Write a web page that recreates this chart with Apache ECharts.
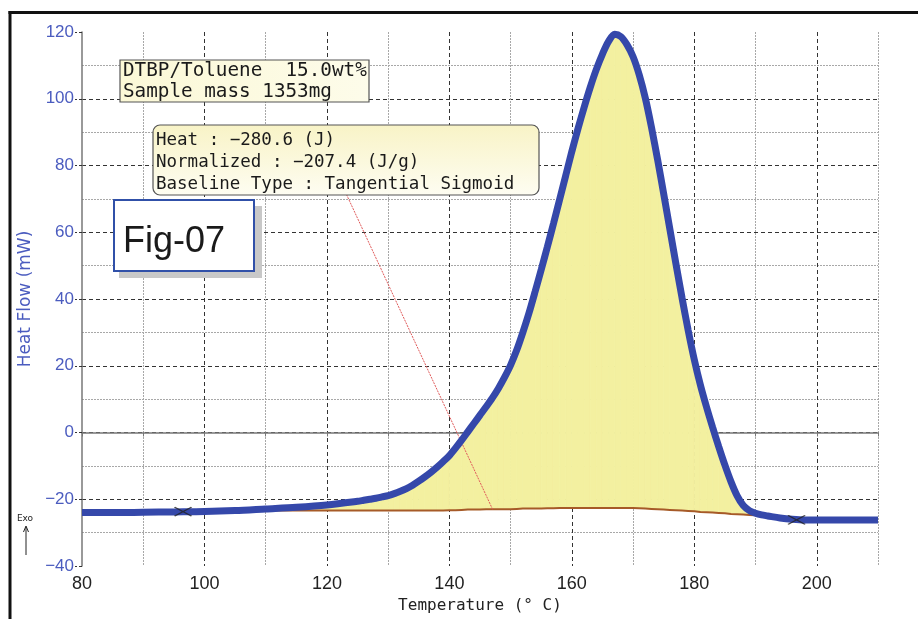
<!DOCTYPE html>
<html>
<head>
<meta charset="utf-8">
<script src="https://cdn.jsdelivr.net/npm/echarts@6/dist/echarts.min.js"></script>
<style>
  html, body { margin: 0; padding: 0; background: #fff; }
  #chart { width: 918px; height: 619px; }
</style>
</head>
<body>
<div id="chart"></div>
<script>
// DSC curve (temperature in °C, heat flow in mW)
const temps = [80, 85, 90, 95, 100, 105, 110, 115, 120,
  125, 126, 127, 128, 129, 130, 131, 132, 133, 134,
  135, 136, 137, 138, 139, 140, 141, 142, 143, 144,
  145, 146, 147, 148, 149, 150, 151, 152, 153, 154,
  155, 156, 157, 158, 159, 160, 161, 162, 163, 164,
  165, 166, 167, 168, 169, 170, 171, 172, 173, 174,
  175, 176, 177, 178, 179, 180, 181, 182, 183, 184,
  185, 186, 187, 188, 189, 190, 191, 192,
  194, 196, 198, 200, 205, 210];
const heatFlow = [-24.0, -24.0, -23.9, -23.8, -23.7, -23.4, -22.9, -22.4, -21.7,
  -20.6, -20.3, -20.0, -19.7, -19.3, -18.9, -18.3, -17.6, -16.8, -15.8,
  -14.6, -13.3, -11.9, -10.4, -8.7, -6.9, -4.7, -2.3, 0.2, 2.7,
  5.2, 7.7, 10.3, 13.2, 16.5, 20.2, 24.7, 30.0, 35.8, 42.2,
  48.8, 55.6, 62.6, 69.8, 77.0, 84.2, 91.0, 97.4, 103.4, 108.8,
  113.4, 117.2, 119.3, 118.6, 116.2, 112.6, 107.2, 100.2, 91.5, 81.8,
  71.5, 61.0, 50.5, 40.3, 30.6, 21.8, 14.2, 7.6, 1.5, -4.3,
  -9.8, -14.8, -19.0, -21.9, -23.4, -24.2, -24.7, -25.0,
  -25.6, -26.0, -26.2, -26.2, -26.2, -26.2];

// tangential sigmoid baseline (same temperatures as the curve between 110 and 192)
const baseTemps = [110, 115, 120,
  125, 126, 127, 128, 129, 130, 131, 132, 133, 134,
  135, 136, 137, 138, 139, 140, 141, 142, 143, 144,
  145, 146, 147, 148, 149, 150, 151, 152, 153, 154,
  155, 156, 157, 158, 159, 160, 161, 162, 163, 164,
  165, 166, 167, 168, 169, 170, 171, 172, 173, 174,
  175, 176, 177, 178, 179, 180, 181, 182, 183, 184,
  185, 186, 187, 188, 189, 190, 191, 192];
const baseFlow = [-23.4, -23.4, -23.4,
  -23.4, -23.4, -23.4, -23.4, -23.4, -23.4, -23.4, -23.4, -23.4, -23.4,
  -23.4, -23.4, -23.4, -23.4, -23.4, -23.3, -23.3, -23.2, -23.1, -23.1,
  -23.1, -23.0, -23.0, -23.0, -23.0, -23.0, -22.9, -22.8, -22.8, -22.8,
  -22.8, -22.7, -22.7, -22.6, -22.6, -22.6, -22.6, -22.6, -22.6, -22.6,
  -22.6, -22.6, -22.6, -22.6, -22.6, -22.6, -22.7, -22.8, -22.9, -23.0,
  -23.1, -23.2, -23.3, -23.4, -23.5, -23.6, -23.8, -23.9, -24.0, -24.1,
  -24.2, -24.4, -24.5, -24.6, -24.7, -24.8, -24.9, -25.0];

// red tangent line and the two "x" limit marks
const tangentTemps = [123.2, 147.1];
const tangentFlow = [71.3, -23.2];
const markTemps = [96.5, 196.7];
const markFlow = [-23.7, -26.2];

const xMin = 80, xMax = 210, yMin = -40, yMax = 120;

const pairs = (xs, ys) => xs.map((x, i) => [x, ys[i]]);
const curveAt = t => heatFlow[temps.indexOf(t)];
const minus = v => String(v).replace('-', '\u2212');

const blue = '#3548aa';
const labelBlue = '#4b5cbf';
const fillYellow = '#f3f0a0';
const mono = '"DejaVu Sans Mono", monospace';

// one quad per baseline step, between the baseline and the curve
function renderArea(params, api) {
  const i = params.dataIndex;
  if (i >= baseTemps.length - 1) return null;
  const pts = [
    api.coord([baseTemps[i], curveAt(baseTemps[i])]),
    api.coord([baseTemps[i + 1], curveAt(baseTemps[i + 1])]),
    api.coord([baseTemps[i + 1], baseFlow[i + 1]]),
    api.coord([baseTemps[i], baseFlow[i]])
  ];
  return {
    type: 'polygon',
    shape: { points: pts },
    style: { fill: fillYellow, stroke: fillYellow, lineWidth: 0.8 }
  };
}

function textEl(x, y, text, font) {
  return { type: 'text', x: x, y: y, z: 102, style: { text: text, font: font, fill: '#1a1a1a', verticalAlign: 'middle' } };
}

const chart = echarts.init(document.getElementById('chart'));
chart.setOption({
  animation: false,
  backgroundColor: '#fff',
  grid: { left: 82, right: 40, top: 32, bottom: 53 },
  xAxis: [
    {
      type: 'value', min: xMin, max: xMax, interval: 20, position: 'bottom',
      axisLine: { show: true, lineStyle: { color: '#777', width: 1.5 } },
      axisTick: { show: false },
      axisLabel: { color: '#222', fontSize: 18, fontFamily: 'Liberation Sans', margin: 9, showMaxLabel: false },
      splitLine: { show: true, showMinLine: false, showMaxLine: false, lineStyle: { color: '#333', type: [4, 3], width: 1 } },
      name: 'Temperature (° C)', nameLocation: 'middle', nameGap: 30,
      nameTextStyle: { color: '#222', fontSize: 16, fontFamily: mono }
    },
    {
      type: 'value', min: xMin, max: xMax, interval: 10, position: 'bottom',
      axisLine: { show: false },
      axisTick: { show: true, length: 4, lineStyle: { color: '#777' } },
      axisLabel: { show: false },
      splitLine: { show: true, lineStyle: { color: ['transparent', '#a8a8a8'], type: [2, 1], width: 1 } }
    }
  ],
  yAxis: [
    {
      type: 'value', min: yMin, max: yMax, interval: 20, position: 'left',
      axisLine: { show: true, lineStyle: { color: '#777', width: 1.5 } },
      axisTick: { show: true, length: 7, lineStyle: { color: '#333', type: [3, 2] } },
      axisLabel: { color: labelBlue, fontSize: 17, fontFamily: 'Liberation Sans', margin: 8, formatter: minus },
      splitLine: { show: true, showMinLine: false, showMaxLine: false, lineStyle: { color: '#333', type: [4, 3], width: 1 } },
      name: 'Heat Flow (mW)', nameLocation: 'middle', nameGap: 48,
      nameTextStyle: { color: labelBlue, fontSize: 17, fontFamily: 'DejaVu Sans' }
    },
    {
      type: 'value', min: yMin, max: yMax, interval: 10, position: 'left',
      axisLine: { show: false }, axisTick: { show: false }, axisLabel: { show: false },
      splitLine: { show: true, lineStyle: { color: ['transparent', '#a8a8a8'], type: [2, 1], width: 1 } }
    }
  ],
  series: [
    {
      name: 'peak area', type: 'custom', renderItem: renderArea,
      data: pairs(baseTemps, baseFlow), silent: true, z: 1
    },
    {
      name: 'baseline', type: 'line', data: pairs(baseTemps, baseFlow), symbol: 'none',
      lineStyle: { color: '#a65a28', width: 2 }, z: 2
    },
    {
      name: 'tangent', type: 'line', data: pairs(tangentTemps, tangentFlow), symbol: 'none',
      lineStyle: { color: '#e05a5a', width: 1, type: [2, 1] }, z: 3
    },
    {
      name: 'heat flow', type: 'line', data: pairs(temps, heatFlow), symbol: 'none', smooth: 0.3,
      lineStyle: { color: blue, width: 7 }, z: 4
    },
    {
      name: 'limits', type: 'scatter', data: pairs(markTemps, markFlow),
      symbol: 'path://M0,0L10,10M10,0L0,10', symbolSize: [17, 9],
      itemStyle: { color: 'none', borderColor: '#222', borderWidth: 1.3 }, z: 5
    }
  ],
  graphic: [
    // outer frame
    { type: 'line', z: 50, shape: { x1: 10, y1: 11, x2: 10, y2: 619 }, style: { stroke: '#111', lineWidth: 3 } },
    { type: 'line', z: 50, shape: { x1: 8.5, y1: 12.5, x2: 918, y2: 12.5 }, style: { stroke: '#111', lineWidth: 3 } },
    // Exo arrow
    { type: 'text', z: 50, x: 25, y: 519, style: { text: 'Exo', font: '9px "DejaVu Sans"', fill: '#222', align: 'center', verticalAlign: 'middle' } },
    { type: 'polyline', z: 50, shape: { points: [[26, 555], [26, 527]] }, style: { stroke: '#222', lineWidth: 1 } },
    { type: 'polyline', z: 50, shape: { points: [[23.5, 532], [26, 526], [28.5, 532]] }, style: { stroke: '#222', lineWidth: 1, fill: 'none' } },
    // sample box
    { type: 'rect', z: 100, shape: { x: 120, y: 60, width: 249, height: 42 },
      style: { fill: new echarts.graphic.LinearGradient(0, 0, 1, 0, [{ offset: 0, color: '#fbf8d6' }, { offset: 1, color: '#fdfcea' }]), stroke: '#555', lineWidth: 1.2 } },
    textEl(123, 71, 'DTBP/Toluene  15.0wt%', '19.3px ' + mono),
    textEl(123, 92, 'Sample mass 1353mg', '19.3px ' + mono),
    // result box
    { type: 'rect', z: 100, shape: { x: 153, y: 125, width: 386, height: 70, r: 7 },
      style: { fill: new echarts.graphic.LinearGradient(0, 0, 0, 1, [{ offset: 0, color: '#f8f3c6' }, { offset: 1, color: '#fefdf2' }]), stroke: '#555', lineWidth: 1.2 } },
    textEl(156, 140, 'Heat : \u2212280.6 (J)', '17.5px ' + mono),
    textEl(156, 162, 'Normalized : \u2212207.4 (J/g)', '17.5px ' + mono),
    textEl(156, 184, 'Baseline Type : Tangential Sigmoid', '17.5px ' + mono),
    // figure tag
    { type: 'rect', z: 100, shape: { x: 119, y: 206, width: 143, height: 72 }, style: { fill: '#c8c8c8' } },
    { type: 'rect', z: 101, shape: { x: 114, y: 200, width: 140, height: 71 }, style: { fill: '#fff', stroke: '#3050a8', lineWidth: 2 } },
    textEl(123, 242, 'Fig-07', '36px "Liberation Sans"')
  ]
});
</script>
</body>
</html>
